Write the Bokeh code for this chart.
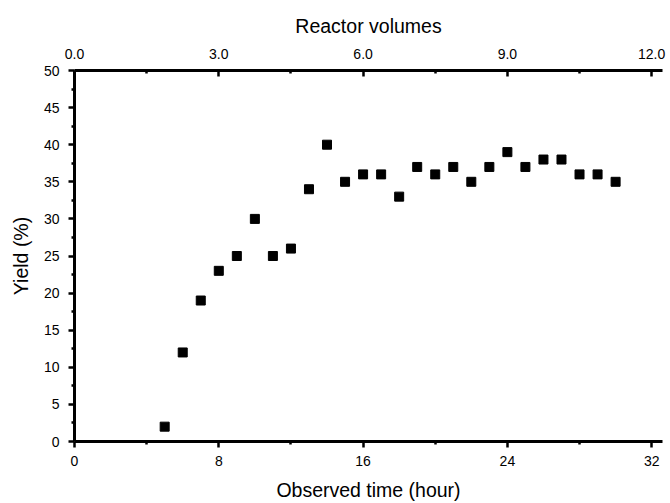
from bokeh.plotting import figure
from bokeh.models import Range1d, LinearAxis, FixedTicker, NumeralTickFormatter
from bokeh.embed import file_html
from bokeh.resources import INLINE

# Data
time_hours = [5, 6, 7, 8, 9, 10, 11, 12, 13, 14, 15, 16, 17, 18, 19, 20, 21, 22,
              23, 24, 25, 26, 27, 28, 29, 30]
yield_pct = [2, 12, 19, 23, 25, 30, 25, 26, 34, 40, 35, 36, 36, 33, 37, 36, 37, 35,
             37, 39, 37, 38, 38, 36, 36, 35]
bottom_ticks = [0, 8, 16, 24, 32]
bottom_minor = [4, 12, 20, 28]
top_ticks = [0.0, 3.0, 6.0, 9.0, 12.0]
top_minor = [1.5, 4.5, 7.5, 10.5]
left_ticks = [0, 5, 10, 15, 20, 25, 30, 35, 40, 45, 50]
left_minor = [2.5, 7.5, 12.5, 17.5, 22.5, 27.5, 32.5, 37.5, 42.5, 47.5]

X_MAX = 32.6
TOP_MAX = X_MAX * 12.0 / 32.0

FONT = "Liberation Sans"

p = figure(width=668, height=503, output_backend="svg", toolbar_location=None,
           x_range=Range1d(0, X_MAX), y_range=Range1d(0, 50),
           x_axis_location=None, y_axis_location=None,
           min_border_left=74, min_border_top=70, min_border_bottom=62, min_border_right=6)
p.outline_line_color = None
p.xgrid.visible = False
p.ygrid.visible = False
p.background_fill_color = "white"
p.border_fill_color = "white"

p.extra_x_ranges = {"top": Range1d(0, TOP_MAX)}


def style(ax):
    ax.axis_line_width = 3
    ax.axis_line_color = "black"
    ax.major_tick_line_width = 2.5
    ax.minor_tick_line_width = 2.5
    ax.major_tick_line_color = "black"
    ax.minor_tick_line_color = "black"
    ax.major_label_text_font = FONT
    ax.major_label_text_font_size = "14px"
    ax.major_label_text_color = "black"
    ax.axis_label_text_font = FONT
    ax.axis_label_text_font_size = "19.5px"
    ax.axis_label_text_font_style = "normal"
    ax.axis_label_text_color = "black"


bottom = LinearAxis(ticker=FixedTicker(ticks=bottom_ticks, minor_ticks=bottom_minor),
                    axis_label="Observed time (hour)")
style(bottom)
bottom.major_tick_out = 6
bottom.major_tick_in = 0
bottom.minor_tick_out = 3
bottom.minor_tick_in = 0
bottom.major_label_standoff = 8
bottom.axis_label_standoff = 10
p.add_layout(bottom, "below")

top = LinearAxis(x_range_name="top",
                 ticker=FixedTicker(ticks=top_ticks, minor_ticks=top_minor),
                 formatter=NumeralTickFormatter(format="0.0"),
                 axis_label="Reactor volumes")
style(top)
top.major_tick_out = 0
top.major_tick_in = 6
top.minor_tick_out = 0
top.minor_tick_in = 3
top.major_label_standoff = 12
top.axis_label_standoff = 9
p.add_layout(top, "above")

left = LinearAxis(ticker=FixedTicker(ticks=left_ticks, minor_ticks=left_minor),
                  axis_label="Yield (%)")
style(left)
left.major_tick_out = 6
left.major_tick_in = 0
left.minor_tick_out = 3
left.minor_tick_in = 0
left.major_label_standoff = 9
left.axis_label_standoff = 9
p.add_layout(left, "left")

p.scatter(time_hours, yield_pct, marker="square", size=9, fill_color="black",
          line_color="black")

open("out.html", "w").write(file_html(p, INLINE))
